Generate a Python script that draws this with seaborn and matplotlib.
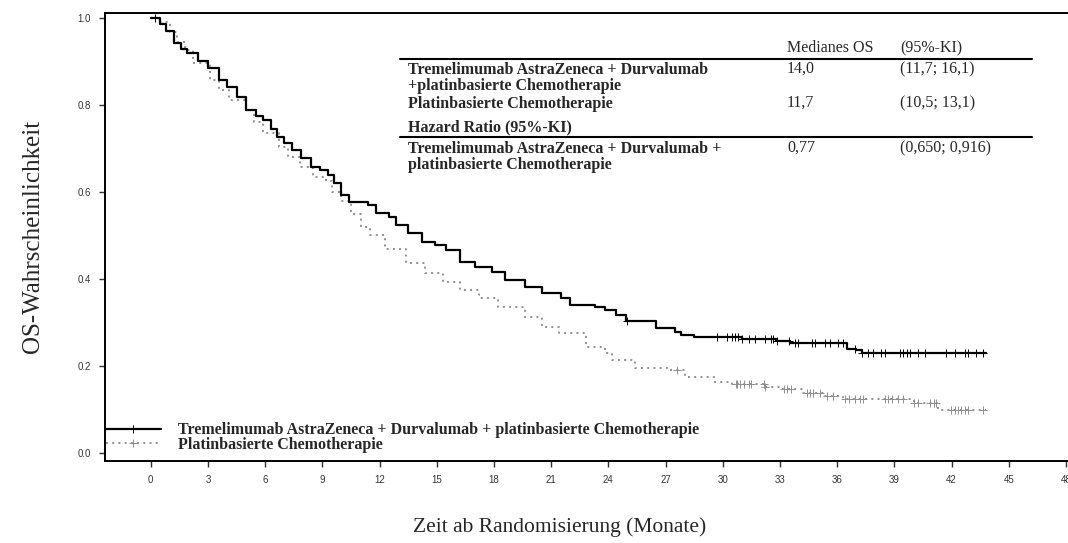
"""
Kaplan-Meier OS plot: Tremelimumab + Durvalumab + chemo vs. platinbasierte Chemotherapie
"""

import numpy as np
import pandas as pd
import matplotlib
matplotlib.use('Agg')
import matplotlib.pyplot as plt
from matplotlib.lines import Line2D
import seaborn as sns

# --- data ---
arm_labels = ['Tremelimumab AstraZeneca + Durvalumab + platinbasierte Chemotherapie',
              'Platinbasierte Chemotherapie']

t_combo = [0, 0.5, 0.8, 1.2, 1.6, 1.9, 2.5, 3.0, 3.6, 4.0, 4.5, 5.0, 5.5, 5.9, 6.3,
           6.6, 7.0, 7.4, 7.9, 8.4, 8.9, 9.3, 9.6, 10.0, 10.4, 11.4, 11.8, 12.5,
           12.85, 13.5, 14.2, 14.9, 15.5, 16.2, 17.0, 17.9, 18.6, 19.6, 20.5, 21.5,
           22.0, 23.3, 23.8, 24.4, 24.9, 26.5, 27.5, 27.8, 28.5, 31.0, 32.8, 33.5,
           36.5, 37.0, 37.3, 43.8]
s_combo = [1.0, 0.985, 0.97, 0.942, 0.928, 0.919, 0.900, 0.885, 0.857, 0.840, 0.819,
           0.789, 0.775, 0.766, 0.745, 0.727, 0.712, 0.697, 0.678, 0.658, 0.651, 0.640,
           0.620, 0.593, 0.578, 0.570, 0.551, 0.543, 0.524, 0.505, 0.486, 0.478, 0.467,
           0.440, 0.428, 0.417, 0.398, 0.382, 0.367, 0.356, 0.340, 0.336, 0.329, 0.317,
           0.304, 0.287, 0.279, 0.271, 0.267, 0.263, 0.257, 0.252, 0.240, 0.237, 0.231,
           0.231]

t_chemo = [0, 0.5, 1.0, 1.4, 1.8, 2.2, 3.1, 3.6, 4.1, 5.0, 5.4, 5.9, 6.7, 7.2, 7.8,
           8.5, 9.2, 9.5, 10.0, 10.5, 11.0, 11.5, 12.3, 13.4, 14.4, 15.3, 16.2, 17.2,
           18.2, 19.6, 20.5, 21.4, 22.8, 23.8, 24.2, 25.4, 27.1, 28.0, 29.6, 30.5,
           32.2, 33.0, 34.2, 35.3, 36.3, 40.0, 41.3, 43.8]
s_chemo = [1.0, 0.99, 0.968, 0.945, 0.926, 0.896, 0.857, 0.835, 0.811, 0.789, 0.76,
           0.735, 0.704, 0.68, 0.658, 0.635, 0.625, 0.600, 0.580, 0.550, 0.520, 0.500,
           0.470, 0.436, 0.413, 0.394, 0.375, 0.356, 0.336, 0.313, 0.290, 0.275, 0.244,
           0.229, 0.214, 0.195, 0.191, 0.175, 0.164, 0.160, 0.152, 0.147, 0.138, 0.131,
           0.125, 0.116, 0.099, 0.099]

cens_combo = [0.2, 25.0, 29.7, 30.2, 30.5, 30.65, 30.8, 31.0, 31.35, 31.7, 32.2, 32.5,
              32.65, 32.85, 33.45, 33.8, 33.95, 34.65, 34.85, 35.35, 35.6, 36.05, 36.3,
              36.95, 37.3, 37.6, 37.9, 38.3, 38.5, 39.3, 39.45, 39.65, 39.8, 40.25,
              40.6, 41.7, 42.15, 42.7, 42.85, 43.3, 43.65]
cens_chemo = [0.2, 27.6, 30.7, 30.75, 30.9, 31.1, 31.35, 31.5, 32.15, 32.2, 33.2, 33.35,
              33.55, 34.4, 34.55, 34.75, 35.1, 35.45, 35.8, 36.4, 36.6, 36.95, 37.2,
              37.35, 38.5, 38.65, 38.85, 39.2, 39.45, 40.05, 40.25, 40.85, 41.05, 41.2,
              41.95, 42.15, 42.35, 42.5, 42.7, 42.85, 43.65]

x_ticks = list(range(0, 49, 3))
y_ticks = [0.0, 0.2, 0.4, 0.6, 0.8, 1.0]

# table next to the curves
tab_header = ['Medianes OS', '(95%-KI)']
tab_rows = [
    (['Tremelimumab AstraZeneca + Durvalumab', '+platinbasierte Chemotherapie'], '14,0', '(11,7; 16,1)'),
    (['Platinbasierte Chemotherapie'], '11,7', '(10,5; 13,1)'),
]
hr_title = 'Hazard Ratio (95%-KI)'
hr_row = (['Tremelimumab AstraZeneca + Durvalumab +', 'platinbasierte Chemotherapie'], '0,77', '(0,650; 0,916)')


def step_value(times, surv, t):
    idx = np.searchsorted(times, t, side='right') - 1
    return np.asarray(surv)[idx]


sns.set_style('ticks')
serif = ['Liberation Serif', 'DejaVu Serif']
sans = ['Liberation Sans', 'DejaVu Sans']

W, H = 1068, 543
fig = plt.figure(figsize=(W / 100, H / 100), dpi=100)
ax = fig.add_axes([105 / W, 1 - 461 / H, 1 - 105 / W, (461 - 13) / H])


def fx(px):
    return px / W


def fy(py):
    return 1 - py / H


solid_col = 'black'
dot_col = '#8f8f8f'
dot_style = (0, (1, 2.2))

df_combo = pd.DataFrame({'t': t_combo, 's': s_combo})
df_chemo = pd.DataFrame({'t': t_chemo, 's': s_chemo})

sns.lineplot(data=df_chemo, x='t', y='s', ax=ax, estimator=None, drawstyle='steps-post',
             color=dot_col, linestyle=dot_style, linewidth=1.4)
sns.lineplot(data=df_combo, x='t', y='s', ax=ax, estimator=None, drawstyle='steps-post',
             color=solid_col, linewidth=1.6)

# censoring marks
cc = np.array(cens_combo)
ch = np.array(cens_chemo)
sns.scatterplot(x=ch, y=step_value(t_chemo, s_chemo, ch), ax=ax, marker='+', s=28,
                color=dot_col, linewidth=0.7)
sns.scatterplot(x=cc, y=step_value(t_combo, s_combo, cc), ax=ax, marker='+', s=28,
                color=solid_col, linewidth=0.7)

ax.set_xlim(-2.4, 48.1)
ax.set_ylim(-0.018, 1.011)
ax.set_xticks(x_ticks)
ax.set_xticklabels([str(v) for v in x_ticks])
ax.set_yticks(y_ticks)
ax.set_yticklabels([f'{v:.1f}' for v in y_ticks])
for lab in ax.get_xticklabels() + ax.get_yticklabels():
    lab.set_family(sans)
    lab.set_fontsize(7)
    lab.set_color('#333333')
ax.tick_params(axis='both', length=4, width=1, color='#333333', pad=6)
ax.spines['right'].set_visible(False)
for sp in ['left', 'bottom', 'top']:
    ax.spines[sp].set_linewidth(1.4)
    ax.spines[sp].set_color('black')

ax.set_xlabel('')
ax.set_ylabel('')
fig.text(fx(560), fy(527), 'Zeit ab Randomisierung (Monate)', ha='center', va='center',
         family=serif, fontsize=15.5)
fig.text(fx(33), fy(236), 'OS-Wahrscheinlichkeit', ha='center', va='center',
         rotation=90, family=serif, fontsize=18)

# legend
handles = [Line2D([], [], color=solid_col, lw=1.6, marker='+', markersize=6, markeredgewidth=0.7),
           Line2D([], [], color=dot_col, lw=1.4, linestyle=dot_style, marker='+',
                  markersize=6, markeredgewidth=0.7)]
ax.legend(handles, arm_labels, loc='lower left', bbox_to_anchor=(fx(103), fy(456)),
          bbox_transform=fig.transFigure, frameon=False, handlelength=3.4,
          handletextpad=1.1, labelspacing=-0.1, borderaxespad=0, borderpad=0.2,
          prop={'family': serif, 'weight': 'bold', 'size': 11.5})

# table
col_x = [408, 787, 900]
tsize = 11.5
fig.text(fx(col_x[1]), fy(48), tab_header[0], family=serif, fontsize=tsize, va='center')
fig.text(fx(col_x[2]), fy(48), tab_header[1], family=serif, fontsize=tsize, va='center')
fig.add_artist(Line2D([fx(400), fx(1032)], [fy(59), fy(59)], color='black', lw=1.5))


def table_row(lines, med, ci, y0):
    for i, line in enumerate(lines):
        fig.text(fx(col_x[0]), fy(y0 + 16 * i), line, family=serif, fontsize=tsize,
                 weight='bold', va='center')
    fig.text(fx(col_x[1]), fy(y0 - 1), med, family=serif, fontsize=tsize, va='center')
    fig.text(fx(col_x[2]), fy(y0 - 1), ci, family=serif, fontsize=tsize, va='center')


table_row(tab_rows[0][0], tab_rows[0][1], tab_rows[0][2], 70)
table_row(tab_rows[1][0], tab_rows[1][1], tab_rows[1][2], 104)
fig.text(fx(col_x[0]), fy(127), hr_title, family=serif, fontsize=tsize, weight='bold', va='center')
fig.add_artist(Line2D([fx(400), fx(1032)], [fy(137), fy(137)], color='black', lw=1.5))
table_row(hr_row[0], hr_row[1], hr_row[2], 149)

fig.savefig('out.png', dpi=100)
